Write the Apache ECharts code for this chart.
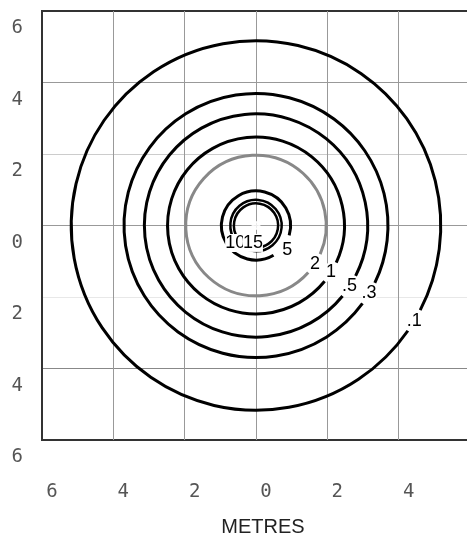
<!DOCTYPE html>
<html>
<head>
<meta charset="utf-8">
<script src="https://cdn.jsdelivr.net/npm/echarts@6/dist/echarts.min.js"></script>
<style>
html, body { margin: 0; padding: 0; background: #fff; }
#chart { width: 467px; height: 533px; }
</style>
</head>
<body>
<div id="chart"></div>
<script>
// contour values (labels) and their radius in metres
var contourLabels = ['.1', '.3', '.5', '1', '2', '5', '10', '15'];
var contourRadius = [5.18, 3.70, 3.13, 2.48, 1.97, 0.97, 0.72, 0.62];
var centre = [0, 0];
var axisMin = -6, axisMax = 6, axisStep = 2;

// where each label sits: angle (deg, screen clockwise), distance factor, gap in px
var labelPlace = [
	[31, 1.0, 24], [31, 1.0, 24], [33, 1.0, 24], [32, 1.0, 22], [33, 1.0, 22],
	[38, 1.15, 26], [140, 1.06, 0], [100, 0.8, 0]
];
var lineColor = ['#000', '#000', '#000', '#000', '#888', '#000', '#000', '#000'];
var lineWidth = [3, 3, 3, 3, 3, 3, 2.5, 2.5];

var dom = document.getElementById('chart');
var myChart = echarts.init(dom);

var contourData = [];
for (var i = 0; i < contourRadius.length; i++) {
	contourData.push([centre[0], centre[1], contourRadius[i]]);
}

var option = {
	animation: false,
	grid: {
		left: 42, top: 11, width: 428, height: 429,
		containLabel: false,
		outerBoundsMode: 'none',
		show: true, borderColor: '#333', borderWidth: 2
	},
	xAxis: {
		type: 'value', min: axisMin, max: axisMax, interval: axisStep,
		axisLine: { show: false },
		axisTick: { show: false },
		axisLabel: {
			formatter: function (v) { return Math.abs(v); },
			margin: 43,
			padding: [0, 0, 0, 20],
			color: '#555',
			fontFamily: 'DejaVu Sans Mono',
			fontSize: 19
		},
		splitLine: {
			lineStyle: { color: ['#333', '#999', '#999', '#999', '#999', '#999', '#333'], width: 1 }
		},
		name: 'METRES',
		nameLocation: 'middle',
		nameGap: 77,
		nameTextStyle: {
			color: '#222', fontFamily: 'Liberation Sans', fontSize: 20,
			padding: [0, 0, 0, 14]
		}
	},
	yAxis: {
		type: 'value', min: axisMin, max: axisMax, interval: axisStep,
		axisLine: { show: false },
		axisTick: { show: false },
		axisLabel: {
			formatter: function (v) { return Math.abs(v); },
			margin: 19,
			verticalAlign: 'top',
			padding: [8, 0, 0, 0],
			color: '#555',
			fontFamily: 'DejaVu Sans Mono',
			fontSize: 19
		},
		splitLine: {
			lineStyle: { color: ['#333', '#888', '#e8e8e8', '#999', '#ccc', '#999', '#333'], width: 1 }
		}
	},
	series: [{
		type: 'custom',
		data: contourData,
		renderItem: function (params, api) {
			var i = params.dataIndex;
			var c = api.coord([api.value(0), api.value(1)]);
			var r = api.size([api.value(2), 0])[0];
			var p = labelPlace[i];
			var a = p[0] * Math.PI / 180;
			var half = p[2] / 2 / r;
			return {
				type: 'group',
				children: [{
					type: 'arc',
					shape: { cx: c[0], cy: c[1], r: r, startAngle: a + half, endAngle: a - half + Math.PI * 2, clockwise: true },
					style: { stroke: lineColor[i], fill: null, lineWidth: lineWidth[i] }
				}, {
					type: 'text',
					z2: 10 + i,
					style: {
						text: contourLabels[i],
						x: c[0] + Math.cos(a) * r * p[1],
						y: c[1] + Math.sin(a) * r * p[1],
						align: 'center',
						verticalAlign: 'middle',
						font: '18px "Liberation Sans"',
						fill: '#000',
						backgroundColor: '#fff'
					}
				}]
			};
		}
	}, {
		type: 'scatter',
		data: [centre],
		symbol: 'emptyCircle',
		symbolSize: 7,
		itemStyle: { color: '#fff', borderColor: '#888', borderWidth: 1 },
		z: 1
	}]
};
myChart.setOption(option);
</script>
</body>
</html>
